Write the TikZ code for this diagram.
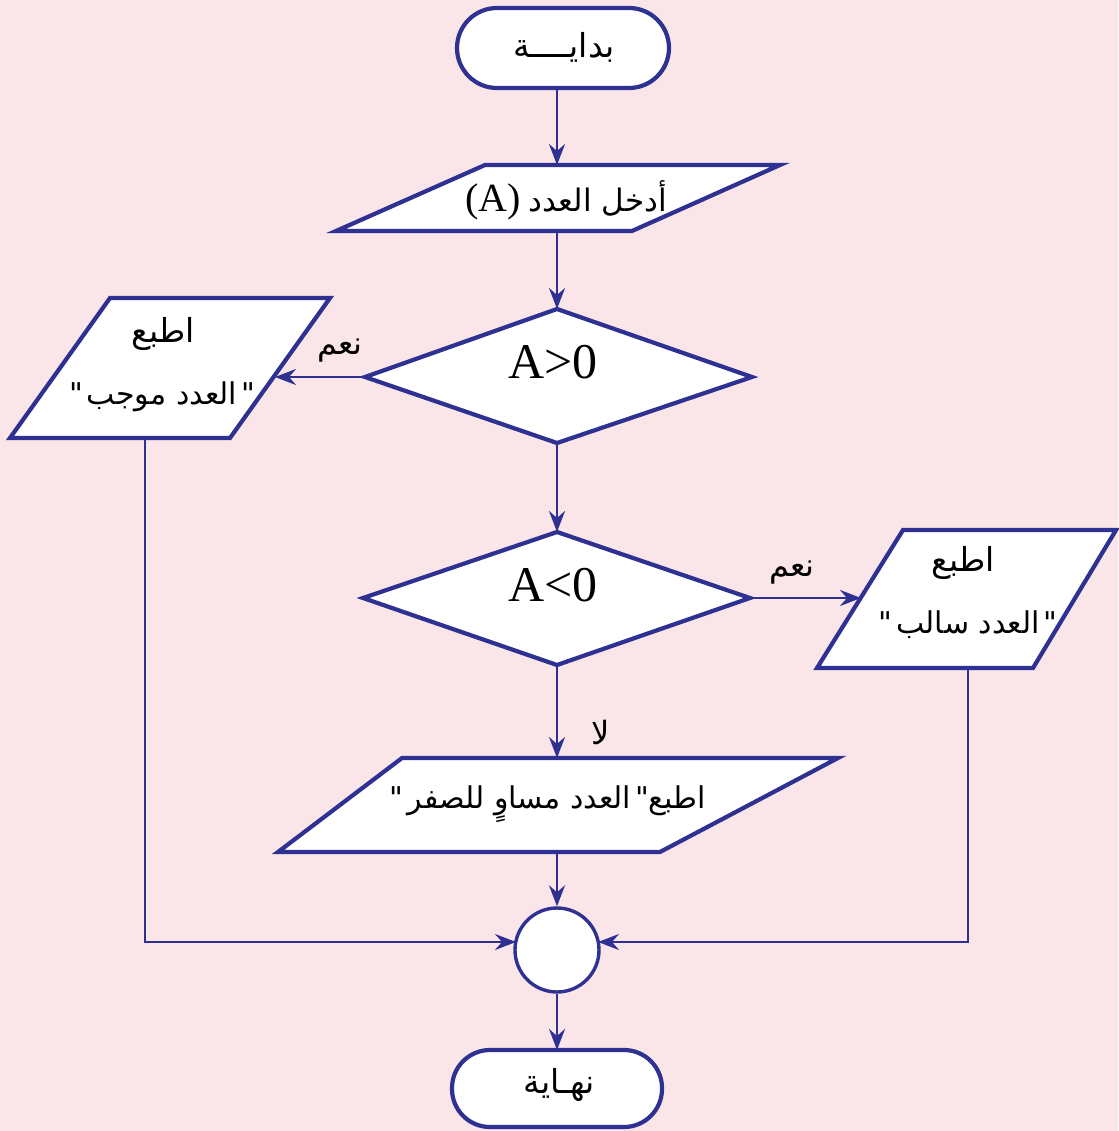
\documentclass[tikz,border=0pt]{standalone}
\usepackage{fontspec}
\setmainfont{Liberation Serif}
\newfontfamily\ar[Script=Arabic]{DejaVu Sans}
\TeXXeTstate=1
\usetikzlibrary{arrows.meta}
\definecolor{fc}{HTML}{2E3192}
\definecolor{bg}{HTML}{FAE6E8}
\newcommand{\qq}{{\ar"}}
\begin{document}
\begin{tikzpicture}[x=1pt,y=-1pt,
  shp/.style={draw=fc, line width=4.2pt, fill=white, line join=miter},
  conn/.style={draw=fc, line width=2.6pt, -{Stealth[length=21pt,width=16pt,inset=7pt]}},
  artxt/.style={font=\ar\fontsize{33}{38}\selectfont, inner sep=0pt},
  qtxt/.style={font=\ar\fontsize{30}{36}\selectfont, inner sep=0pt},
  mtxt/.style={font=\fontsize{50}{58}\selectfont, inner sep=0pt},
  lbl/.style={font=\ar\fontsize{32}{36}\selectfont, inner sep=0pt}]
\fill[bg] (0,0) rectangle (1118,1131);
\useasboundingbox (0,0) rectangle (1118,1131);

% start
\draw[shp, rounded corners=40pt] (457,8) rectangle (669,88);
\node[artxt] (start) at (564,47) {\beginR بدايــــة\endR};
\coordinate (startS) at (557,88);

% input
\draw[shp] (485,165) -- (780,165) -- (632,231) -- (336,231) -- cycle;
\node[inner sep=0pt] (in) at (566,200) {{\fontsize{40}{46}\selectfont (A)}\hspace{8pt}{\ar\fontsize{31}{36}\selectfont\beginR أدخل العدد\endR}};
\coordinate (inN) at (557,165);
\coordinate (inS) at (557,231);

% decision 1
\draw[shp] (557,309) -- (752,377) -- (557,443) -- (365,377) -- cycle;
\node[mtxt] (d1) at (553,362) {A>0};
\coordinate (d1N) at (557,309);
\coordinate (d1W) at (365,377);
\coordinate (d1S) at (557,443);

% left output
\draw[shp] (110,298) -- (330,298) -- (230,438) -- (10,438) -- cycle;
\node[artxt] (lb1) at (163,334) {\beginR اطبع\endR};
\node[qtxt] (lb2) at (162,397) {\qq\hspace{4pt}{\beginR العدد موجب\endR}\hspace{4pt}\qq};
\coordinate (lbE) at (275,377);
\coordinate (lbS) at (145,438);
\node[lbl] (yes1) at (340,351) {\beginR نعم\endR};

% decision 2
\draw[shp] (557,532) -- (750,598) -- (557,665) -- (363,598) -- cycle;
\node[mtxt] (d2) at (553,585) {A<0};
\coordinate (d2N) at (557,532);
\coordinate (d2E) at (750,598);
\coordinate (d2S) at (557,665);

% right output
\draw[shp] (903,530) -- (1116,530) -- (1033,668) -- (817,668) -- cycle;
\node[artxt] (rb1) at (963,563) {\beginR اطبع\endR};
\node[qtxt] (rb2) at (968,625) {\qq\hspace{4pt}{\beginR العدد سالب\endR}\hspace{4pt}\qq};
\coordinate (rbW) at (861,598);
\coordinate (rbS) at (968,668);
\node[lbl] (yes2) at (792,573) {\beginR نعم\endR};

% bottom output
\draw[shp] (402,758) -- (838,758) -- (660,852) -- (278,852) -- cycle;
\node[qtxt] (bb) at (548,804) {\qq\hspace{4pt}{\beginR العدد مساوٍ للصفر\endR}\hspace{4pt}\qq{\beginR اطبع\endR}};
\coordinate (bbN) at (557,758);
\coordinate (bbS) at (557,852);
\node[lbl] (no) at (601,732) {\beginR لا\endR};

% join
\node[draw=fc, line width=3.4pt, fill=white, circle, minimum size=84pt, inner sep=0pt] (join) at (557,950) {};
\coordinate (jl) at (516,942);
\coordinate (jr) at (598,942);

% end
\draw[shp, rounded corners=38pt] (452,1050) rectangle (662,1127);
\node[artxt] (end) at (559,1085) {\beginR نهـاية\endR};
\coordinate (endN) at (557,1050);

% connectors
\draw[conn] (startS) -- (inN);
\draw[conn] (inS) -- (d1N);
\draw[conn] (d1W) -- (lbE);
\draw[conn] (d1S) -- (d2N);
\draw[conn] (d2E) -- (rbW);
\draw[conn] (d2S) -- (bbN);
\draw[conn] (bbS) -- (join.north);
\draw[conn] (join.south) -- (endN);
\draw[conn] (lbS) |- (jl);
\draw[conn] (rbS) |- (jr);
\end{tikzpicture}
\end{document}
